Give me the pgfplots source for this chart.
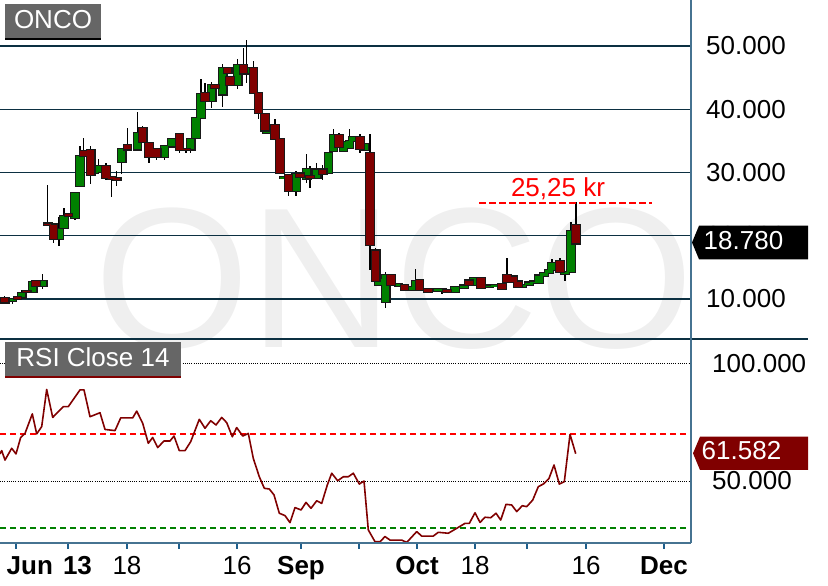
\documentclass[border=0pt]{standalone}
\usepackage{fontspec}
\setmainfont{Liberation Sans}
\usepackage{pgfplots}
\pgfplotsset{compat=1.18}
\usepackage{pgfplotstable}

\definecolor{cgreen}{RGB}{0,128,0}
\definecolor{cred}{RGB}{128,0,0}
\definecolor{gridc}{RGB}{12,48,66}
\definecolor{framec}{RGB}{70,115,145}
\definecolor{tickc}{RGB}{30,95,140}
\definecolor{wm}{RGB}{239,239,239}
\definecolor{boxgray}{RGB}{102,102,102}
\definecolor{edge}{RGB}{25,25,25}

\newcommand\lbl{\fontsize{26bp}{30bp}\selectfont}

% daily candles, x in chart pixels: x open high low close
\pgfplotstableread{
x o h l c
12.3 9.63 10.10 9.26 10.05
21.7 10.26 11.48 10.20 10.95
32.7 11.06 12.80 10.90 12.69
42.7 12.01 14.01 11.58 12.90
59 19.50 22.90 18.34 21.08
64 21.19 24.46 21.10 23.09
75 22.82 26.90 22.56 26.78
80 27.84 34.17 27.70 32.59
94 29.95 30.30 29.90 30.21
98.3 30.05 32.16 29.90 31.00
121.7 31.69 33.70 29.84 33.64
137.3 33.64 39.60 33.50 36.28
151.7 32.43 33.80 32.30 33.75
164.3 32.43 34.20 32.00 34.12
171.7 34.12 35.30 34.00 35.22
190.7 33.64 35.30 33.11 35.22
196 35.49 38.60 35.40 38.55
201 38.65 44.72 38.50 42.45
211.7 41.29 44.30 40.24 43.78
222.7 42.35 47.10 40.34 46.57
237.7 43.83 48.01 43.14 46.99
246.7 45.67 50.90 44.20 46.57
266.7 36.28 36.90 36.20 36.81
283.3 29.10 29.40 29.00 29.31
296 27.04 30.21 26.25 29.79
306.7 29.00 32.85 28.36 30.58
316.7 29.16 31.53 29.10 30.47
328.3 29.95 33.20 29.90 33.11
333.3 33.38 36.91 33.30 35.86
343.3 33.38 34.90 33.30 34.85
349.3 33.91 36.91 33.80 34.96
352.3 34.96 35.70 34.90 35.65
364.3 33.54 34.50 33.40 34.43
378.3 12.27 13.20 12.20 13.17
385.7 9.53 14.27 8.58 13.85
398.3 12.11 12.40 12.00 12.37
411.7 11.48 11.95 11.40 11.90
415.7 11.58 14.80 11.50 12.80
438 11.32 11.70 11.20 11.59
442 11.43 11.70 10.80 11.59
455 11.16 11.90 11.10 11.85
464 11.80 12.20 11.70 12.12
474 12.22 13.40 12.10 13.28
489 11.96 12.20 11.90 12.12
495 12.00 12.30 11.90 12.22
522 11.96 12.30 11.80 12.22
529 12.22 12.60 12.10 12.59
534 12.59 12.80 12.50 12.75
539 12.49 13.80 12.40 13.70
544 13.70 14.10 13.60 14.07
549 14.07 14.87 14.00 14.60
552 14.60 16.30 14.50 15.66
565 13.97 14.30 12.80 14.23
571 14.23 22.12 14.20 20.79
}\upcandles

\pgfplotstableread{
x o h l c
4.7 10.16 10.42 9.26 9.47
17.3 10.26 10.30 10.00 10.05
26.7 11.32 11.40 11.00 11.06
36 12.80 12.90 11.90 12.01
47.7 21.93 28.10 21.60 21.77
53.3 21.77 21.90 18.87 19.50
68.3 23.46 23.50 23.00 23.09
83.3 33.38 35.49 32.40 32.59
90.7 33.54 34.17 28.26 29.58
106 31.00 31.53 28.89 29.16
111.7 29.26 29.30 26.15 29.00
116.7 29.16 30.21 27.84 28.89
127.3 34.27 36.97 33.50 33.64
142.7 36.97 37.33 34.70 34.80
149 34.70 34.80 31.53 32.43
156.7 33.75 33.80 32.00 32.43
179.3 36.02 36.10 33.11 33.54
186 33.75 33.80 33.11 33.54
205 42.61 44.20 40.24 41.29
215 43.78 43.80 43.30 43.40
227.7 46.46 46.50 45.70 45.78
230 45.15 45.20 43.80 43.83
243.3 46.99 49.74 45.60 45.67
253.3 46.57 47.57 42.50 42.61
258.3 42.61 42.70 38.39 39.45
265 39.18 39.30 36.50 36.65
275 37.55 38.39 35.20 35.33
280 35.33 35.40 29.90 29.95
288.3 29.53 29.60 26.25 27.04
300 29.84 29.90 29.20 29.31
310 29.42 31.00 27.57 29.16
322.7 30.47 31.11 28.89 29.79
339 35.86 36.28 33.90 34.01
360 35.65 36.02 33.11 33.75
370 33.11 36.02 14.64 18.50
375.7 17.65 18.07 12.70 12.80
391 13.85 13.90 12.20 12.27
404.3 12.16 12.20 11.30 11.37
419.3 13.06 13.10 11.30 11.37
428 11.53 11.60 11.10 11.16
447 11.43 11.50 11.10 11.16
469 12.91 13.00 12.10 12.22
481 13.28 13.30 11.60 11.69
502 12.33 12.40 11.40 11.53
507 13.81 16.46 12.60 12.65
513 13.54 13.60 12.50 12.65
518 12.75 12.80 11.80 11.85
560 16.03 16.46 14.10 14.23
576 21.75 25.34 18.70 18.78
}\downcandles

\pgfplotsset{
  wick/.style={mark=none, forget plot, error bars/.cd, y dir=both, y explicit, error mark=none,
    error bar style={draw=black, solid, line width=1.3bp}},
  bodyedge/.style={mark=none, forget plot, error bars/.cd, y dir=both, y explicit, error mark=none,
    error bar style={draw=edge, solid, line width=9.6bp}},
  bodyfill/.style={mark=none, forget plot, error bars/.cd, y dir=both, y explicit, error mark=none,
    error bar style={draw=#1, solid, line width=7.2bp}},
}

\begin{document}
\begin{tikzpicture}[x=1bp,y=1bp]

% watermark
\node[anchor=base west, inner sep=0pt, text=wm, font=\fontsize{200bp}{200bp}\selectfont] at (94bp,238bp) {ONCO};

% price panel
\begin{axis}[
  at={(0bp,247bp)}, anchor=south west,
  width=691bp, height=339bp, scale only axis,
  xmin=0, xmax=691, ymin=3.68, ymax=57.27,
  axis line style={draw=none},
  xtick=\empty,
  ytick={10,20,30,40,50},
  yticklabel pos=right,
  ymajorgrids,
  grid style={gridc, line width=1.2bp},
  major tick length=0pt,
  yticklabel style={anchor=west, inner sep=0pt, xshift=15bp, font=\lbl},
  /pgf/number format/.cd, fixed, fixed zerofill, precision=3, assume math mode=true,
]
\addplot[draw=none, wick] table[x=x, y expr={(\thisrow{h}+\thisrow{l})/2}, y error expr={(\thisrow{h}-\thisrow{l})/2}] {\upcandles};
\addplot[draw=none, wick] table[x=x, y expr={(\thisrow{h}+\thisrow{l})/2}, y error expr={(\thisrow{h}-\thisrow{l})/2}] {\downcandles};
\addplot[draw=none, bodyedge] table[x=x, y expr={(\thisrow{o}+\thisrow{c})/2}, y error expr={abs(\thisrow{c}-\thisrow{o})/2+0.18}] {\upcandles};
\addplot[draw=none, bodyfill=cgreen] table[x=x, y expr={(\thisrow{o}+\thisrow{c})/2}, y error expr={abs(\thisrow{c}-\thisrow{o})/2}] {\upcandles};
\addplot[draw=none, bodyedge] table[x=x, y expr={(\thisrow{o}+\thisrow{c})/2}, y error expr={abs(\thisrow{c}-\thisrow{o})/2+0.18}] {\downcandles};
\addplot[draw=none, bodyfill=cred] table[x=x, y expr={(\thisrow{o}+\thisrow{c})/2}, y error expr={abs(\thisrow{c}-\thisrow{o})/2}] {\downcandles};

% 25,25 kr marker
\addplot[red, line width=2bp, dash pattern=on 7bp off 3bp] coordinates {(479,25.25) (652,25.25)};
\node[anchor=base, red, inner sep=0pt, font=\lbl] at (axis cs:558,26.28) {25,25 kr};
\end{axis}

% RSI panel
\begin{axis}[
  at={(0bp,43bp)}, anchor=south west,
  width=691bp, height=203bp, scale only axis,
  xmin=0, xmax=691, ymin=23.66, ymax=109.9,
  axis line style={draw=none},
  ytick={50,100},
  yticklabel pos=right,
  ymajorgrids,
  grid style={black, line width=0.8bp, dash pattern=on 1bp off 1.2bp},
  ytick style={draw=none},
  xtick={16,68,127,179,237,301,359,417,475,527,586,664},
  xticklabels={{\makebox[0pt][l]{\hspace{-9.3bp}\textbf{Jun}}},{\makebox[0pt][l]{\hspace{-5bp}\textbf{13}}},18,{},16,\textbf{Sep},{},\textbf{Oct},18,{},16,\textbf{Dec}},
  xtick pos=bottom,
  tick align=outside,
  xtick style={tickc, line width=2bp},
  major tick length=6bp,
  xticklabel style={anchor=north, inner sep=0pt, yshift=-7.5bp, font=\lbl},
  yticklabel style={anchor=west, inner sep=0pt, xshift=15bp, font=\lbl},
  /pgf/number format/.cd, fixed, fixed zerofill, precision=3, assume math mode=true,
]
\addplot[red, line width=1.6bp, dash pattern=on 6bp off 4bp] coordinates {(0,70) (691,70)};
\addplot[cgreen, line width=1.6bp, dash pattern=on 6bp off 4bp] coordinates {(0,30) (691,30)};
\addplot[cred, line width=1.6bp, line join=round] coordinates {
(0,61.5) (1.7,62.9) (5,58.9) (11.7,63.9) (16,61.5) (20.7,68.5) (25,70.2) (32.3,78.5)
(36.7,70.0) (41.7,73.1) (46.7,88.9) (52.7,77.0) (63.3,81.6) (68.3,81.6) (80,88.7)
(84,88.7) (90,77.3) (100,79.0) (105,71.9) (115,71.4) (120.7,76.8) (132.7,76.8)
(136.7,79.7) (142.7,74.5) (148.3,66.0) (152.7,68.5) (157.7,64.2) (164,67.0)
(170,67.0) (174,69.1) (179.3,62.9) (185,62.9) (190.7,66.7) (199.3,76.2) (205,72.4)
(210.7,75.6) (216,73.8) (221.7,77.0) (226.7,74.8) (232.3,68.8) (236.7,72.7)
(242.7,69.1) (248.3,70.2) (253.3,59.6) (259.3,51.8) (264.3,46.9) (269.3,46.6)
(274,44.1) (279.3,36.3) (285,35.3) (290,32.3) (295,38.7) (301,37.7) (306,40.9)
(311,38.4) (316.7,41.6) (321.7,40.5) (327.3,48.3) (331.7,53.3) (337.7,50.1)
(343.3,51.8) (348.3,51.8) (353.3,53.3) (359.3,48.7) (364,50.0) (368.3,29.2)
(375,24.2) (380,24.2) (385,26.4) (390,24.9) (401.7,24.9) (406.7,23.9) (416.7,28.5)
(421.7,26.6) (433.3,26.6) (438.3,28.2) (448.3,27.8) (456.7,29.9) (465,32.0)
(469.3,32.0) (475,36.5) (480,32.4) (485,34.6) (490.7,34.4) (496,36.3) (500.7,33.4)
(506,40.1) (511.7,39.8) (516.7,37.0) (522.3,39.5) (526.7,39.1) (532.7,41.9)
(538.3,47.6) (543.3,48.7) (549,51.1) (554,56.8) (559.3,48.7) (564.3,49.7)
(570,69.8) (575.7,61.58)
};
\end{axis}

% frame lines
\draw[gridc, line width=2bp] (0,247) -- (808,247);
\draw[framec, line width=1.2bp] (691,43) -- (691,586);
\draw[framec, line width=1.2bp] (0,43) -- (691,43);

% panel titles
\fill[boxgray] (5,548) rectangle (100.7,582);
\fill[black] (5,546) rectangle (100.7,548);
\node[anchor=base, inner sep=0pt, text=white, font=\lbl] at (53,557.7) {ONCO};
\fill[boxgray] (5,209.3) rectangle (180.7,243.7);
\fill[cred] (5,208.3) rectangle (180.7,210.3);
\node[anchor=base, inner sep=0pt, text=white, font=\lbl] at (93,219.3) {RSI Close 14};

% last value tags
\fill[black] (692,343.5) -- (699,360.3) -- (808,360.3) -- (808,326.7) -- (699,326.7) -- cycle;
\node[anchor=base west, inner sep=0pt, text=white, font=\lbl] at (703.5,336.7) {18.780};
\fill[cred] (693,132.7) -- (700,149.3) -- (808,149.3) -- (808,116) -- (700,116) -- cycle;
\node[anchor=base west, inner sep=0pt, text=white, font=\lbl] at (701.5,126) {61.582};

\pgfresetboundingbox
\path (0,0) rectangle (828,586);
\end{tikzpicture}
\end{document}
